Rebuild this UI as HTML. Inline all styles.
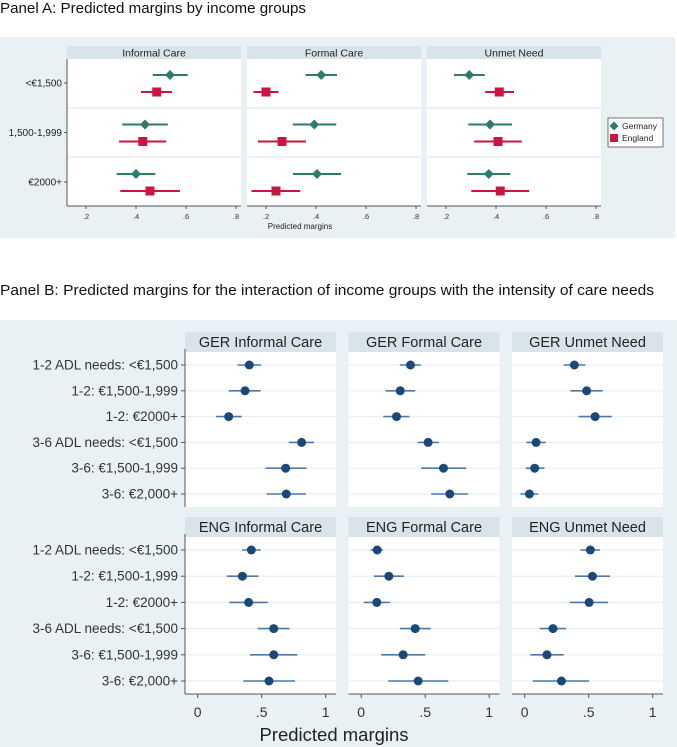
<!DOCTYPE html>
<html><head><meta charset="utf-8"><style>
body{margin:0;width:677px;height:747px;background:#fff;overflow:hidden;font-family:"Liberation Sans",sans-serif;}
svg{position:absolute;left:0;top:0;}
</style></head><body>
<svg id="c" width="677" height="747" xmlns="http://www.w3.org/2000/svg"></svg>
<script>
// Panel A data
const aGroups = ["<€1,500","1,500-1,999","€2000+"];
const aOutcomes = ["Informal Care","Formal Care","Unmet Need"];
const aTicks = [0.2,0.4,0.6,0.8];
const aTickLabels = [".2",".4",".6",".8"];
const gerA = [[0.536,0.436,0.40],[0.421,0.393,0.404],[0.293,0.376,0.371]];
const gerALo = [[0.467,0.345,0.323],[0.358,0.307,0.308],[0.232,0.289,0.285]];
const gerAHi = [[0.607,0.527,0.477],[0.484,0.481,0.50],[0.355,0.464,0.457]];
const engA = [[0.483,0.427,0.456],[0.20,0.264,0.24],[0.413,0.408,0.417]];
const engALo = [[0.42,0.332,0.337],[0.15,0.168,0.142],[0.357,0.313,0.301]];
const engAHi = [[0.544,0.521,0.576],[0.25,0.36,0.337],[0.472,0.503,0.533]];
// Panel B data
const bRows = ["1-2 ADL needs: <€1,500","1-2: €1,500-1,999","1-2: €2000+","3-6 ADL needs: <€1,500","3-6: €1,500-1,999","3-6: €2,000+"];
const bTitles = [["GER Informal Care","GER Formal Care","GER Unmet Need"],["ENG Informal Care","ENG Formal Care","ENG Unmet Need"]];
const bTicks = [0,0.5,1];
const bTickLabels = ["0",".5","1"];
const gerB = [[0.403,0.37,0.242,0.812,0.687,0.692],[0.385,0.305,0.276,0.523,0.643,0.692],[0.388,0.484,0.55,0.089,0.078,0.037]];
const gerBLo = [[0.312,0.242,0.143,0.711,0.531,0.539],[0.302,0.19,0.172,0.442,0.469,0.547],[0.305,0.357,0.42,0.013,0.008,-0.034]];
const gerBHi = [[0.495,0.492,0.344,0.909,0.849,0.846],[0.466,0.422,0.377,0.606,0.82,0.836],[0.474,0.609,0.68,0.164,0.154,0.107]];
const engB = [[0.419,0.349,0.398,0.594,0.594,0.557],[0.125,0.216,0.122,0.422,0.328,0.445],[0.513,0.529,0.503,0.221,0.174,0.287]];
const engBLo = [[0.346,0.227,0.247,0.469,0.409,0.357],[0.073,0.099,0.021,0.302,0.156,0.211],[0.435,0.393,0.352,0.117,0.044,0.063]];
const engBHi = [[0.492,0.474,0.547,0.716,0.778,0.76],[0.169,0.333,0.224,0.544,0.5,0.68],[0.589,0.667,0.651,0.323,0.305,0.503]];

const svg=document.getElementById('c');
const NS="http://www.w3.org/2000/svg";
function mk(tag,attrs,parent){const e=document.createElementNS(NS,tag);for(const k in attrs)e.setAttribute(k,attrs[k]);(parent||svg).appendChild(e);return e;}
function txt(s,attrs,parent){const e=mk('text',attrs,parent);e.textContent=s;return e;}

// Titles
let t=txt("Panel A: Predicted margins by income groups",{x:0,y:13,'font-size':15,fill:'#111','textLength':306,'lengthAdjust':'spacingAndGlyphs'});


t=txt("Panel B: Predicted margins for the interaction of income groups with the intensity of care needs",{x:0,y:295,'font-size':15,fill:'#111','textLength':654,'lengthAdjust':'spacingAndGlyphs'});



// ---------- Panel A ----------
let bg=mk('rect',{x:0,y:37,width:675,height:201,fill:'#eaf1f4'});


const aPlotTop=59,aPlotBot=206,aHdrTop=46;
const aLeft=[67,247,427],aW=174;
function ax(p,v){return aLeft[p]+19+(v-0.2)*250;}
const aRowY=[83,132.5,182];
for(let p=0;p<3;p++){
  const g=mk('g',{});
  
  
  mk('rect',{x:aLeft[p],y:aHdrTop,width:aW,height:13,fill:'#d9e4ea'},g);
  txt(aOutcomes[p],{x:aLeft[p]+aW/2,y:aHdrTop+10.5,'font-size':10.5,'text-anchor':'middle',fill:'#222'},g);
  mk('rect',{x:aLeft[p],y:aPlotTop,width:aW,height:aPlotBot-aPlotTop,fill:'#fff'},g);
  [108,157].forEach(y=>mk('line',{x1:aLeft[p],x2:aLeft[p]+aW,y1:y,y2:y,stroke:'#e6eef2','stroke-width':1.5},g));
  mk('line',{x1:aLeft[p],x2:aLeft[p]+aW,y1:aPlotBot,y2:aPlotBot,stroke:'#555','stroke-width':1},g);
  aTicks.forEach((v,i)=>{const x=ax(p,v);mk('line',{x1:x,x2:x,y1:aPlotBot,y2:aPlotBot+3,stroke:'#555'},g);
    txt(aTickLabels[i],{x:x,y:219,'font-size':7.5,'text-anchor':'middle',fill:'#333'},g);});
  for(let r=0;r<3;r++){
    const yg=aRowY[r]-8,ye=aRowY[r]+9;
    let l=mk('line',{x1:ax(p,gerALo[p][r]),x2:ax(p,gerAHi[p][r]),y1:yg,y2:yg,stroke:'#2f7a6b','stroke-width':2},g);
    
    
    const cx=ax(p,gerA[p][r]);
    let m=mk('polygon',{points:`${cx},${yg-5} ${cx+5},${yg} ${cx},${yg+5} ${cx-5},${yg}`,fill:'#2f7a6b'},g);
    
    
    l=mk('line',{x1:ax(p,engALo[p][r]),x2:ax(p,engAHi[p][r]),y1:ye,y2:ye,stroke:'#cc1440','stroke-width':2},g);
    
    
    const ex=ax(p,engA[p][r]);
    m=mk('rect',{x:ex-4.5,y:ye-4.5,width:9,height:9,fill:'#cc1440'},g);
    
    
  }
}
mk('line',{x1:67,x2:67,y1:aPlotTop,y2:aPlotBot,stroke:'#555'});
aGroups.forEach((s,i)=>{mk('line',{x1:64,x2:67,y1:aRowY[i],y2:aRowY[i],stroke:'#555'});
  const e=txt(s,{x:62,y:aRowY[i]+3.5,'font-size':10,'text-anchor':'end',fill:'#222'});
  
  });
t=txt("Predicted margins",{x:300,y:229,'font-size':8,'text-anchor':'middle',fill:'#222'});


const lg=mk('g',{});


mk('rect',{x:608,y:118,width:55,height:29,fill:'#fff',stroke:'#555','stroke-width':0.8},lg);
mk('polygon',{points:'614,121.5 618.5,126 614,130.5 609.5,126',fill:'#2f7a6b'},lg);
txt("Germany",{x:622,y:129,'font-size':8.5,fill:'#222'},lg);
mk('rect',{x:610,y:134,width:8,height:8,fill:'#cc1440'},lg);
txt("England",{x:622,y:141,'font-size':8.5,fill:'#222'},lg);

// ---------- Panel B ----------
bg=mk('rect',{x:0,y:320,width:677,height:427,fill:'#eaf1f4'});


const bLeft=[185,348.5,512],bW=151;
const bHdr=[[332,352],[517,537]],bPlot=[[352,507],[537,694]];
function bx(p,v){return bLeft[p]+12.7+v*128;}
const dat=[[gerB,gerBLo,gerBHi],[engB,engBLo,engBHi]];
for(let s=0;s<2;s++){
  const top=bPlot[s][0],bot=bPlot[s][1],step=(bot-top-26)/5;
  const ry=r=>top+13+r*step;
  for(let p=0;p<3;p++){
    const g=mk('g',{});
    
    
    mk('rect',{x:bLeft[p],y:bHdr[s][0],width:bW,height:bHdr[s][1]-bHdr[s][0],fill:'#d9e4ea'},g);
    txt(bTitles[s][p],{x:bLeft[p]+bW/2,y:bHdr[s][1]-5,'font-size':14.5,'text-anchor':'middle',fill:'#222'},g);
    mk('rect',{x:bLeft[p],y:top,width:bW,height:bot-top,fill:'#fff'},g);
    for(let r=0;r<6;r++)mk('line',{x1:bLeft[p],x2:bLeft[p]+bW,y1:ry(r),y2:ry(r),stroke:'#e9f0f3','stroke-width':1.2},g);
    if(s===1){
      mk('line',{x1:bLeft[p],x2:bLeft[p]+bW,y1:bot,y2:bot,stroke:'#555'},g);
      bTicks.forEach((v,i)=>{const x=bx(p,v);mk('line',{x1:x,x2:x,y1:bot,y2:bot+4,stroke:'#555'},g);
        txt(bTickLabels[i],{x:x,y:717,'font-size':14,'text-anchor':'middle',fill:'#333'},g);});
    }
    const [vv,lo,hi]=dat[s];
    for(let r=0;r<6;r++){
      const y=ry(r);
      let l=mk('line',{x1:bx(p,lo[p][r]),x2:bx(p,hi[p][r]),y1:y,y2:y,stroke:'#4b79ab','stroke-width':1.6},g);
      
      
      let c=mk('circle',{cx:bx(p,vv[p][r]),cy:y,r:4.5,fill:'#1a4878'},g);
      
      
    }
  }
  mk('line',{x1:185,x2:185,y1:top-3,y2:bot,stroke:'#555'});
  bRows.forEach((lab,r)=>{mk('line',{x1:181,x2:185,y1:ry(r),y2:ry(r),stroke:'#555'});
    const e=txt(lab,{x:178,y:ry(r)+4.5,'font-size':13.5,'text-anchor':'end',fill:'#333'});
    
    });
}
t=txt("Predicted margins",{x:334,y:741,'font-size':18.5,'text-anchor':'middle',fill:'#222'});


</script>
</body></html>
